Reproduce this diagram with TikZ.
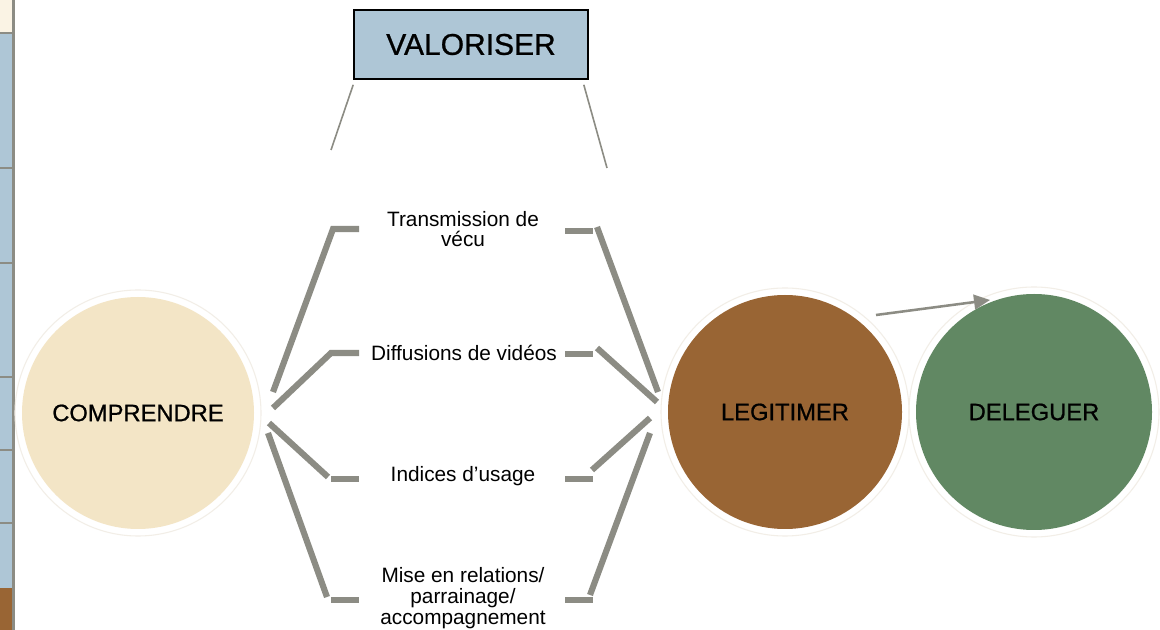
\documentclass[tikz,border=0pt]{standalone}
\usepackage{fontspec}
\setmainfont{Liberation Sans}
\newfontfamily\medfont[FakeBold=0.8]{Liberation Sans}
\usetikzlibrary{arrows.meta}
\definecolor{creamc}{RGB}{243,229,198}
\definecolor{brownc}{RGB}{153,101,52}
\definecolor{greenc}{RGB}{97,136,99}
\definecolor{bluec}{RGB}{174,198,214}
\definecolor{lgray}{RGB}{140,140,132}
\definecolor{ringc}{RGB}{242,238,231}
\definecolor{creamtop}{RGB}{250,243,228}
\begin{document}
\begin{tikzpicture}[x=0.75pt,y=-0.75pt,
  thickline/.style={draw=lgray,line width=4.6pt},
  thinline/.style={draw=lgray,line width=1.2pt},
  bigcirc/.style={circle,inner sep=0pt,font=\medfont\fontsize{17.8}{20}\selectfont},
  ringline/.style={draw=ringc,line width=0.8pt},
  lbl/.style={align=center,font=\fontsize{15.6}{15}\selectfont,inner sep=0pt}]
\useasboundingbox (0,0) rectangle (1160,630);
\fill[white] (0,0) rectangle (1160,630);
% left strip
\fill[creamtop] (0,0) rectangle (12,32);
\fill[bluec] (0,32) rectangle (12,588);
\fill[brownc] (0,588) rectangle (12,630);
\fill[lgray] (12,0) rectangle (15,630);
\foreach \y in {33,168,263,377,450,523} \fill[lgray] (0,\y-1) rectangle (12,\y+1);
% circles
\draw[ringline] (138,413) circle[radius=123];
\draw[ringline] (785,412) circle[radius=124];
\draw[ringline] (1034,412) circle[radius=125];
\node[bigcirc,fill=creamc,minimum size=174pt] (comp) at (138,413) {COMPRENDRE};
\node[bigcirc,fill=brownc,minimum size=175.5pt] (leg) at (785,412) {LEGITIMER};
\node[bigcirc,fill=greenc,minimum size=177pt] (del) at (1034,412) {DELEGUER};
% top box
\node[draw=black,line width=1.2pt,fill=bluec,minimum width=175.5pt,minimum height=51.75pt,inner sep=0pt,
  font=\medfont\fontsize{22.5}{24}\selectfont] (val) at (471,44.5) {VALORISER};
\coordinate (v1) at (331,150);
\coordinate (v2) at (607,168);
\draw[thinline] ([yshift=-3.75pt]val.south west) -- (v1);
\draw[thinline] ([xshift=-3.75pt,yshift=-3.75pt]val.south east) -- (v2);
% labels
\node[lbl] (l1) at (463,229) {Transmission de\\vécu};
\node[lbl] (l2) at (464,353) {Diffusions de vidéos};
\node[lbl] (l3) at (463,476) {Indices d’usage};
\node[lbl,font=\fontsize{15.6}{16}\selectfont] (l4) at (463,598) {Mise en relations/\\parrainage/\\accompagnement};
% connector points
\coordinate (a1) at (273,392); \coordinate (b1) at (333,229); \coordinate (c1) at (359,229);
\coordinate (a2) at (273,408); \coordinate (b2) at (331,353); \coordinate (c2) at (359,353);
\coordinate (a3) at (269,423); \coordinate (b3) at (328,477);
\coordinate (e3) at (331,479); \coordinate (c3) at (359,479);
\coordinate (a4) at (268,433); \coordinate (b4) at (327,597);
\coordinate (e4) at (331,600); \coordinate (c4) at (359,600);
\coordinate (h5a) at (565,231); \coordinate (h5b) at (593,231);
\coordinate (d5a) at (597,227); \coordinate (d5b) at (658,392);
\coordinate (h6a) at (565,354); \coordinate (h6b) at (593,354);
\coordinate (d6a) at (597,348); \coordinate (d6b) at (657,402);
\coordinate (h7a) at (565,479); \coordinate (h7b) at (593,479);
\coordinate (d7a) at (592,470); \coordinate (d7b) at (650,418);
\coordinate (h8a) at (565,600); \coordinate (h8b) at (593,600);
\coordinate (d8a) at (590,595); \coordinate (d8b) at (650,433);
\draw[thickline] (a1) -- (b1) -- (c1);
\draw[thickline] (a2) -- (b2) -- (c2);
\draw[thickline] (a3) -- (b3);
\draw[thickline] (e3) -- (c3);
\draw[thickline] (a4) -- (b4);
\draw[thickline] (e4) -- (c4);
\draw[thickline] (h5a) -- (h5b);
\draw[thickline] (d5a) -- (d5b);
\draw[thickline] (h6a) -- (h6b);
\draw[thickline] (d6a) -- (d6b);
\draw[thickline] (h7a) -- (h7b);
\draw[thickline] (d7a) -- (d7b);
\draw[thickline] (h8a) -- (h8b);
\draw[thickline] (d8a) -- (d8b);
% arrow
\coordinate (ar1) at (876,315);
\coordinate (ar2) at (990,300);
\draw[draw=lgray,line width=1.9pt,-{Triangle[length=12pt,width=11pt]}] (ar1) -- (ar2);
\end{tikzpicture}
\end{document}
